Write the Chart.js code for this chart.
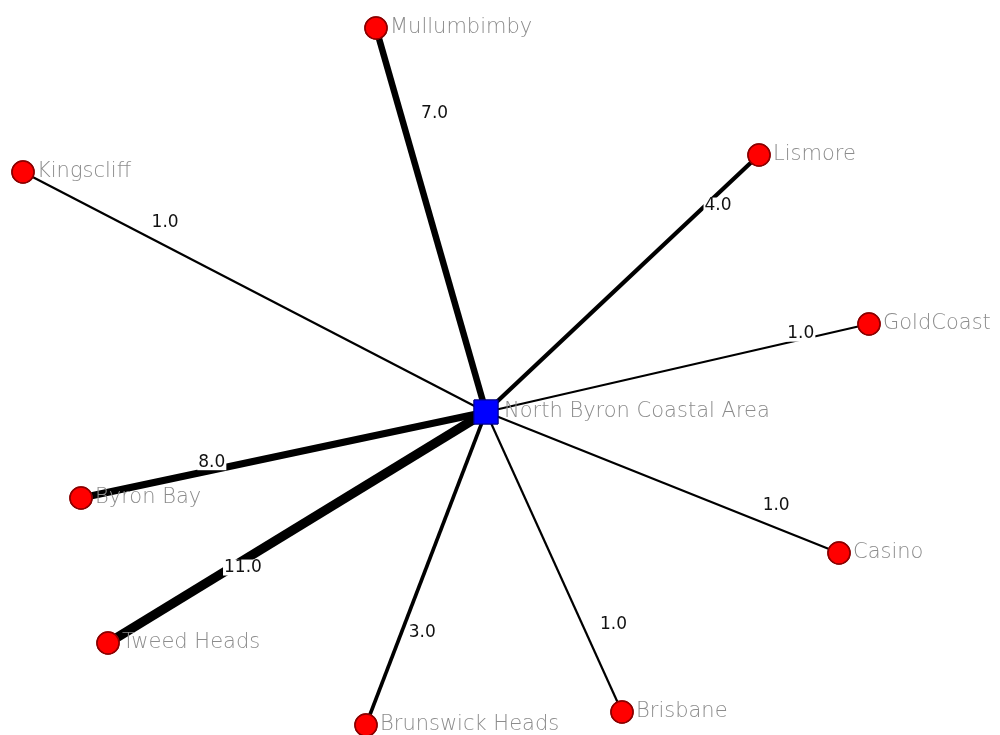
<!DOCTYPE html>
<html>
<head>
<meta charset="utf-8">
<script src="https://cdn.jsdelivr.net/npm/chart.js@4.4.1/dist/chart.umd.min.js"></script>
<style>
  html, body { margin: 0; padding: 0; background: #fff; }
  #wrap { width: 1000px; height: 735px; position: relative; }
</style>
</head>
<body>
<div id="wrap"><canvas id="net"></canvas></div>
<script>
// network layout (layout units, y grows downward)
const hubName = 'North Byron Coastal Area';
const hubX = 486;
const hubY = 412;

const places = ['Mullumbimby', 'Kingscliff', 'Lismore', 'GoldCoast', 'Casino',
  'Brisbane', 'Brunswick Heads', 'Tweed Heads', 'Byron Bay'];
const placeX = [376, 23, 759, 869, 839, 622, 366, 108, 81];
const placeY = [28, 172, 155, 324, 553, 712, 725, 643, 498];
const tieWeights = [7, 1, 4, 1, 1, 1, 3, 11, 8];

// where the weight label sits: fraction along the tie from the hub, then a pixel nudge
const labelPlace = [
  { t: 0.776, dx: 34, dy: 0 },
  { t: 0.693, dx: 0, dy: -23 },
  { t: 0.85, dx: 0, dy: 12 },
  { t: 0.822, dx: 0, dy: -6 },
  { t: 0.822, dx: 0, dy: -22 },
  { t: 0.71, dx: 31, dy: 0 },
  { t: 0.706, dx: 21, dy: 0 },
  { t: 0.643, dx: 0, dy: 7 },
  { t: 0.677, dx: 0, dy: -8 }
];

const lineWidth = w => 1.5 + 0.7 * w;

const tieSets = places.map((p, i) => ({
  label: p,
  data: [{ x: hubX, y: hubY }, { x: placeX[i], y: placeY[i] }],
  showLine: true,
  borderColor: '#000',
  borderWidth: lineWidth(tieWeights[i]),
  borderCapStyle: 'butt',
  pointRadius: 0,
  order: 3
}));

const labelsPlugin = {
  id: 'netLabels',
  afterDatasetsDraw(chart) {
    const ctx = chart.ctx;
    const xs = chart.scales.x, ys = chart.scales.y;
    const hx = xs.getPixelForValue(hubX), hy = ys.getPixelForValue(hubY);
    ctx.save();

    // tie weights
    ctx.font = '17px "DejaVu Sans"';
    ctx.textAlign = 'center';
    ctx.textBaseline = 'middle';
    places.forEach((p, i) => {
      const px = xs.getPixelForValue(placeX[i]), py = ys.getPixelForValue(placeY[i]);
      const lp = labelPlace[i];
      const lx = hx + (px - hx) * lp.t + lp.dx;
      const ly = hy + (py - hy) * lp.t + lp.dy;
      const txt = tieWeights[i].toFixed(1);
      const w = ctx.measureText(txt).width;
      ctx.fillStyle = '#fff';
      ctx.fillRect(lx - w / 2 - 1, ly - 8, w + 2, 16);
      ctx.fillStyle = '#111';
      ctx.fillText(txt, lx, ly);
    });

    // redraw nodes on top of the label boxes
    chart.getSortedVisibleDatasetMetas()
      .filter(m => m.index >= places.length)
      .forEach(m => m.controller.draw());

    // node names
    ctx.font = '200 21px "DejaVu Sans"';
    ctx.textAlign = 'left';
    ctx.fillStyle = '#8c8c8c';
    places.forEach((p, i) => {
      ctx.fillText(p, xs.getPixelForValue(placeX[i]) + 14, ys.getPixelForValue(placeY[i]));
    });
    ctx.fillText(hubName, hx + 18, hy);
    ctx.restore();
  }
};

new Chart(
  document.getElementById('net'),
  {
    type: 'scatter',
    data: {
      datasets: [
        ...tieSets,
        {
          label: 'places',
          data: places.map((p, i) => ({ x: placeX[i], y: placeY[i] })),
          pointStyle: 'circle',
          pointRadius: 11,
          backgroundColor: '#ff0000',
          borderColor: '#8a0000',
          borderWidth: 1.5,
          order: 2
        },
        {
          label: hubName,
          data: [{ x: hubX, y: hubY }],
          pointStyle: 'rect',
          pointRadius: 17,
          backgroundColor: '#0000ff',
          borderColor: '#00008a',
          borderWidth: 1,
          order: 1
        }
      ]
    },
    options: {
      responsive: true,
      maintainAspectRatio: false,
      animation: false,
      layout: { padding: 0, autoPadding: false },
      scales: {
        x: { type: 'linear', min: 0, max: 1000, display: false },
        y: { type: 'linear', min: 0, max: 735, reverse: true, display: false }
      },
      plugins: {
        legend: { display: false },
        tooltip: { enabled: false }
      }
    },
    plugins: [labelsPlugin]
  }
);
</script>
</body>
</html>
